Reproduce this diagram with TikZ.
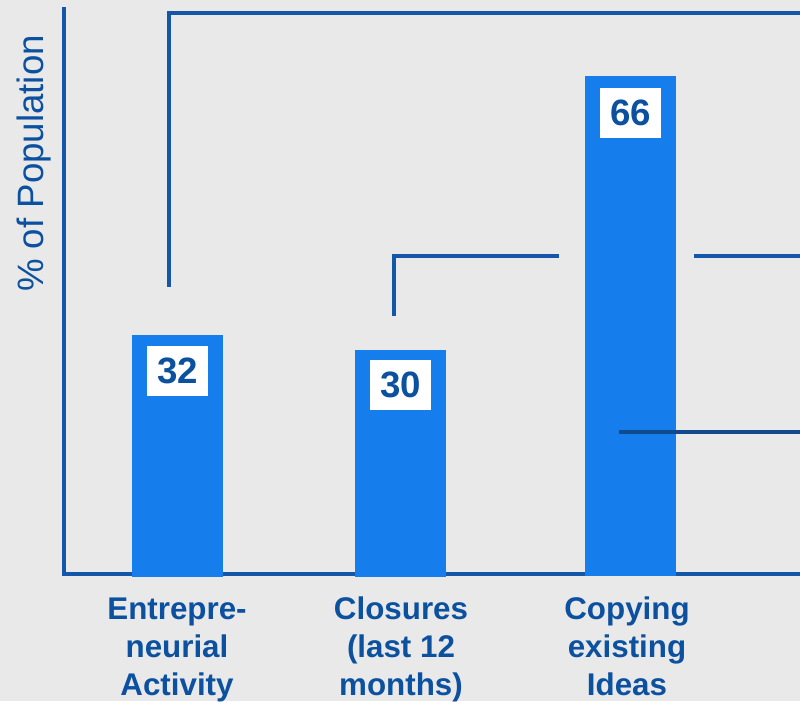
\documentclass[tikz,border=0pt]{standalone}
\usepackage{fontspec}
\setmainfont{Liberation Sans}
\definecolor{bg}{RGB}{233,233,233}
\definecolor{barblue}{RGB}{22,125,236}
\definecolor{lineblue}{RGB}{20,86,168}
\definecolor{txtblue}{RGB}{12,80,160}
\begin{document}
\begin{tikzpicture}[x=0.75pt,y=-0.75pt,
  barbox/.style={fill=barblue, draw=none, inner sep=0pt, anchor=north west, minimum width=91*0.75pt},
  valbox/.style={fill=white, draw=none, inner sep=0pt, minimum width=61*0.75pt, minimum height=50*0.75pt,
     text=txtblue, font=\fontsize{27.5}{30}\selectfont\bfseries},
  catlabel/.style={align=center, anchor=base, inner sep=0pt, text=txtblue,
     font=\fontsize{23.5}{28.5}\selectfont\bfseries},
  axisline/.style={draw=lineblue, line width=2.4pt},
  bracket/.style={draw=lineblue, line width=2.3pt}]
\path[fill=bg] (0,0) rectangle (800,701);
\useasboundingbox (0,0) rectangle (800,701);

% axis
\coordinate (ytop) at (64,7);
\coordinate (origin) at (64,574);
\coordinate (xend) at (800,574);
\draw[axisline] (ytop) -- (origin) -- (xend);

\node[rotate=90, anchor=base, inner sep=0pt, text=txtblue, font=\fontsize{27.5}{30}\selectfont]
  (ylabel) at (43,163.5) {\% of Population};

% bracket lines behind
\coordinate (a1) at (169,287);
\coordinate (a2) at (169,13);
\coordinate (a3) at (800,13);
\draw[bracket] (a1) -- (a2) -- (a3);
\coordinate (b1) at (394,316);
\coordinate (b2) at (394,256);
\coordinate (b3) at (559,256);
\coordinate (b4) at (694,256);
\coordinate (b5) at (800,256);
\draw[bracket] (b1) -- (b2) -- (b3);
\draw[bracket] (b4) -- (b5);

% bars
\node[barbox, minimum height=242*0.75pt] (bar1) at (132,335) {};
\node[barbox, minimum height=227*0.75pt] (bar2) at (355,350) {};
\node[barbox, minimum height=500*0.75pt] (bar3) at (585,76) {};

\node[valbox] (v1) at (177.5,371) {32};
\node[valbox] (v2) at (400.5,385) {30};
\node[valbox] (v3) at (630.5,113) {66};

% line over bar 3
\coordinate (c1) at (619,432);
\coordinate (c2) at (800,432);
\draw[bracket, draw=lineblue!85!black] (c1) -- (c2);

% category labels (base = baseline of last line)
\node[catlabel] (l1) at (177,695) {Entrepre-\\neurial\\Activity};
\node[catlabel] (l2) at (401,695) {Closures\\(last 12\\months)};
\node[catlabel] (l3) at (627,695) {Copying\\existing\\Ideas};
\end{tikzpicture}
\end{document}
